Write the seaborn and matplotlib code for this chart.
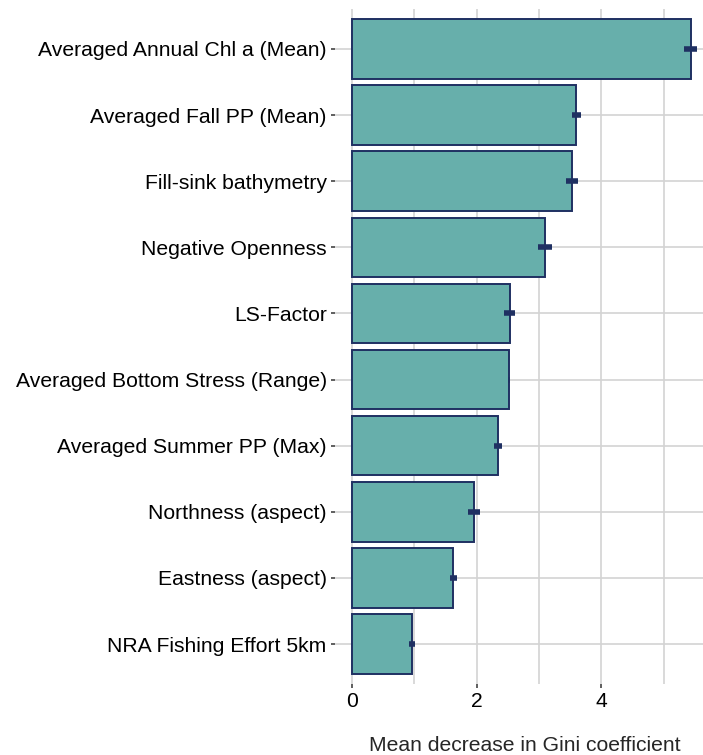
import numpy as np
import pandas as pd
import seaborn as sns
import matplotlib.pyplot as plt
from matplotlib.ticker import MultipleLocator

variables = [
    'Averaged Annual Chl a (Mean)',
    'Averaged Fall PP (Mean)',
    'Fill-sink bathymetry',
    'Negative Openness',
    'LS-Factor',
    'Averaged Bottom Stress (Range)',
    'Averaged Summer PP (Max)',
    'Northness (aspect)',
    'Eastness (aspect)',
    'NRA Fishing Effort 5km',
]
mean_gini = [5.43, 3.60, 3.53, 3.10, 2.53, 2.52, 2.35, 1.96, 1.63, 0.96]
gini_err = [0.11, 0.07, 0.09, 0.11, 0.09, 0.02, 0.065, 0.10, 0.055, 0.05]

df = pd.DataFrame({'variable': variables, 'gini': mean_gini, 'err': gini_err})

sns.set_style('white')
plt.rcParams['font.family'] = ['Liberation Sans', 'DejaVu Sans']

fig = plt.figure(figsize=(7.03, 7.55), dpi=100)
ax = fig.add_axes([0.4765, 0.0944, 0.5235, 0.8933])

fill = '#67AFAB'
navy = '#1F3062'

sns.barplot(data=df, x='gini', y='variable', orient='h', color=fill,
            saturation=1, width=0.9, edgecolor=navy, linewidth=1.4,
            errorbar=None, ax=ax, zorder=2)

ax.errorbar(df['gini'], np.arange(len(df)), xerr=df['err'], fmt='none',
            ecolor=navy, elinewidth=4, capsize=0, zorder=3)

# ggplot-like grid: majors and minors on x, majors on y
ax.xaxis.set_major_locator(MultipleLocator(2))
ax.xaxis.set_minor_locator(MultipleLocator(1))
ax.grid(True, which='both', axis='x', color='#D3D3D3', linewidth=1.2, zorder=0)
ax.grid(True, which='major', axis='y', color='#D3D3D3', linewidth=1.2, zorder=0)
ax.set_axisbelow(True)

ax.set_xlim(-0.27, 5.63)
ax.set_ylim(len(df) - 0.4, -0.6)

for s in ax.spines.values():
    s.set_visible(False)

ax.tick_params(axis='both', which='major', labelsize=15.2, length=3,
               width=1.1, color='#333333', labelcolor='black', pad=3,
               left=True, bottom=True)
ax.tick_params(axis='x', which='minor', length=0)
ax.set_ylabel('')
ax.set_xlabel('Mean decrease in Gini coefficient', fontsize=15.2, va='center')
ax.xaxis.set_label_coords(0.516, -0.0915)

fig.savefig('out.png', dpi=100)
